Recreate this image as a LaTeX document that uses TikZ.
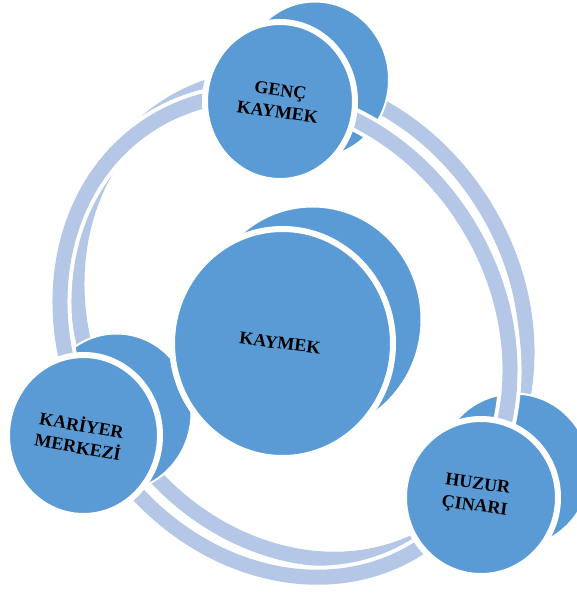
\documentclass[tikz,border=0pt]{standalone}
\usepackage{fontspec}
\setmainfont{Liberation Serif}
\definecolor{nodeblue}{HTML}{5B9BD5}
\definecolor{ringblue}{HTML}{B4C7E7}
\begin{document}
\begin{tikzpicture}[x=1pt,y=-1pt,
  backface/.style={fill=nodeblue, draw=white, line width=2pt},
  frontface/.style={fill=nodeblue, draw=white, line width=6pt},
  ringback/.style={draw=ringblue, line width=15pt},
  ringout/.style={draw=white, line width=23pt},
  ringfront/.style={draw=ringblue, line width=15pt},
  lbl/.style={font=\bfseries\fontsize{18}{22}\selectfont, align=center, text=black, inner sep=0pt}]
\useasboundingbox (0,0) rectangle (577,594);
% ring back band
\path[ringback] (302,318) ellipse [x radius=251, y radius=214, rotate=-58];
% back faces
\draw[backface] (312.5,319.5) ellipse [x radius=109, y radius=113];
\draw[backface] (315,79.5) ellipse [x radius=74, y radius=78];
\draw[backface] (116.5,412.5) ellipse [x radius=75, y radius=79];
\draw[backface] (514,470.5) ellipse [x radius=76, y radius=77];
% ring front band
\path[ringout] (285,336) ellipse [x radius=251, y radius=214, rotate=-58];
\path[ringfront] (285,336) ellipse [x radius=251, y radius=214, rotate=-58];
% front faces
\draw[frontface] (282.5,343.5) ellipse [x radius=110.5, y radius=114.5];
\draw[frontface] (280,101.5) ellipse [x radius=75, y radius=79.5];
\draw[frontface] (83.5,435.5) ellipse [x radius=76.5, y radius=80.5];
\draw[frontface] (481,497.5) ellipse [x radius=77, y radius=78.5];
% labels
\node[lbl, rotate=-7] (kaymek) at (280,343) {KAYMEK};
\node[lbl, rotate=-8] (genc) at (279,101) {GENÇ\\KAYMEK};
\node[lbl, rotate=-8] (huzur) at (476,496) {HUZUR\\ÇINARI};
\node[lbl, rotate=-10] (kariyer) at (80,435) {KARİYER\\MERKEZİ};
\end{tikzpicture}
\end{document}
